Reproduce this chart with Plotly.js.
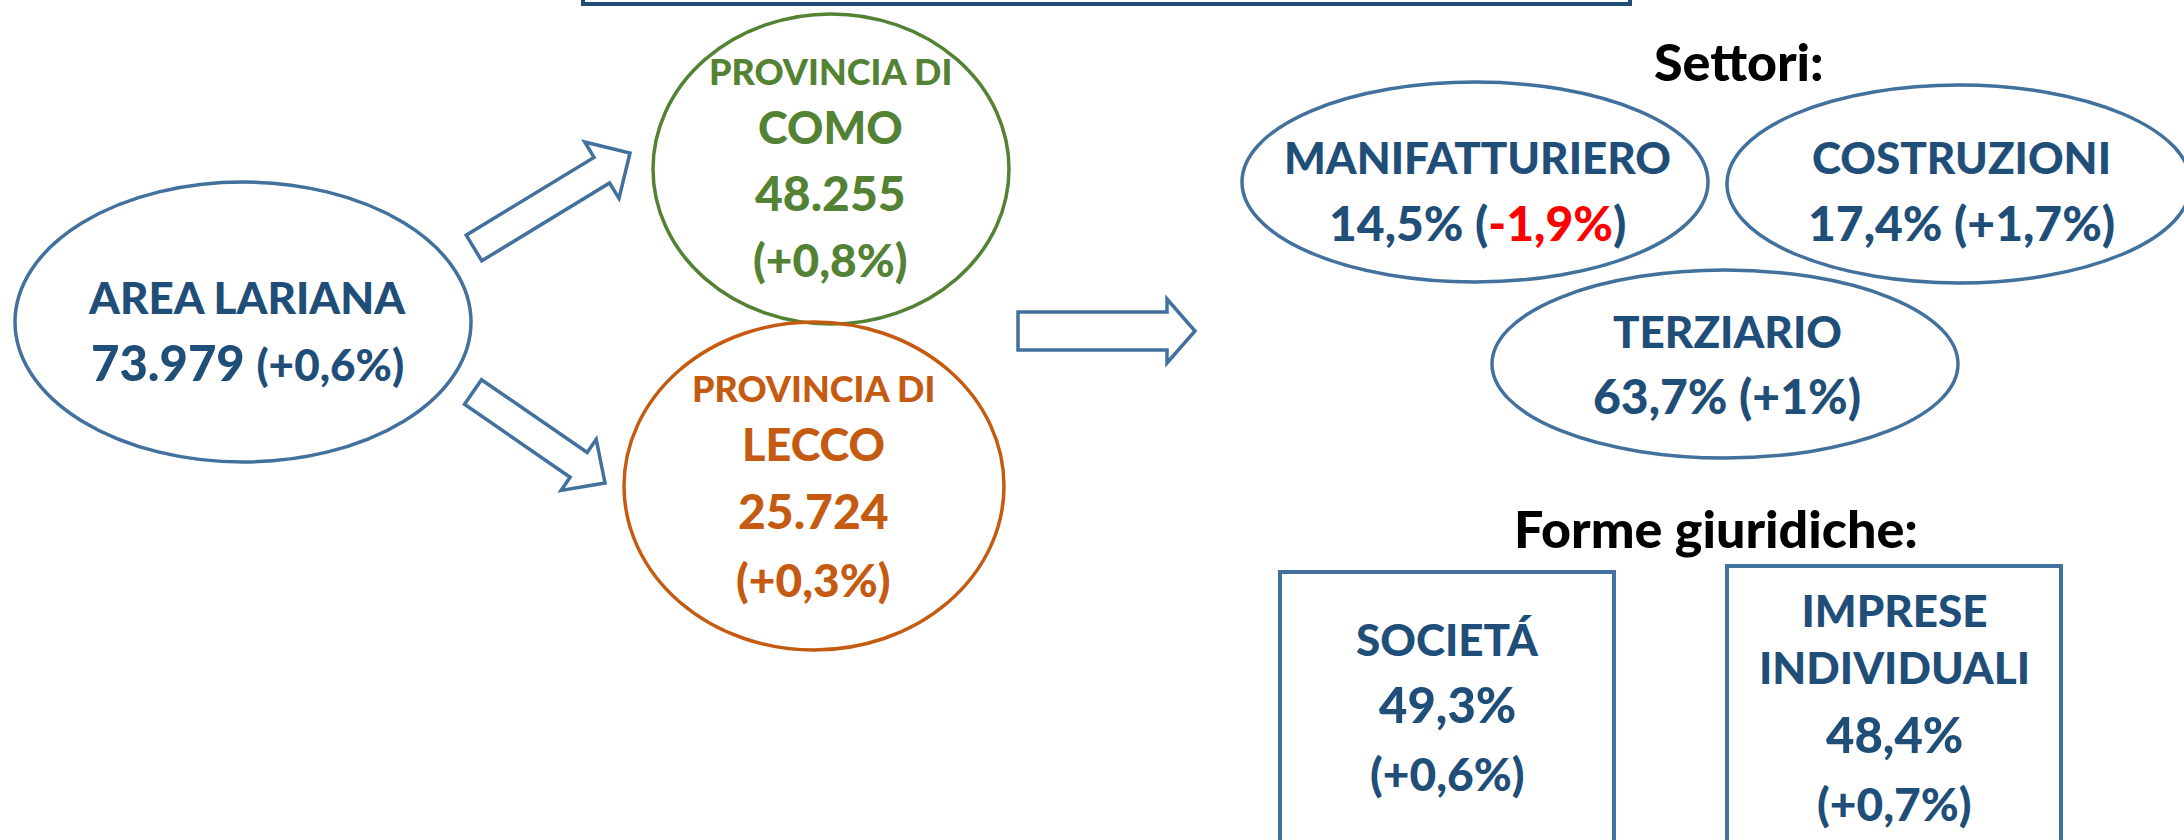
<!DOCTYPE html>
<html>
<head>
<meta charset="utf-8">
<script src="https://cdn.plot.ly/plotly-3.0.1.min.js"></script>
<style>html,body{margin:0;padding:0;background:#fff;}#chart{width:2184px;height:840px;}</style>
</head>
<body>
<div id="chart"></div>
<script>
// ---- data ----
const areaName = 'AREA LARIANA';
const areaTotal = 73979;
const areaChange = 0.6;
const provinceNames = ['COMO', 'LECCO'];
const provinceTotals = [48255, 25724];
const provinceChanges = [0.8, 0.3];
const sectorNames = ['MANIFATTURIERO', 'COSTRUZIONI', 'TERZIARIO'];
const sectorShares = [14.5, 17.4, 63.7];
const sectorChanges = [-1.9, 1.7, 1];
const formNames = ['SOCIETÁ', 'IMPRESE<br>INDIVIDUALI'];
const formShares = [49.3, 48.4];
const formChanges = [0.6, 0.7];
const headings = ['Settori:', 'Forme giuridiche:'];

// ---- formatting helpers (Italian) ----
function fmtInt(n) { return String(n).replace(/\B(?=(\d{3})+(?!\d))/g, '.'); }
function fmtPct(v) { return String(v).replace('.', ',') + '%'; }
function fmtChg(v) { return (v >= 0 ? '+' : '-') + fmtPct(Math.abs(v)); }

// ---- styles ----
const FONT = 'Lato, "Open Sans", sans-serif';
const BLUE_TXT = '#1F4E79';
const BLUE_LINE = '#41719C';
const GREEN = '#548235';
const ORANGE = '#C55A11';
const RED = '#FF0000';

const shapes = [];
const ann = [];

function ell(cx, cy, rx, ry, color, w) {
  shapes.push({type: 'circle', xref: 'x', yref: 'y', x0: cx - rx, x1: cx + rx, y0: cy - ry, y1: cy + ry,
    line: {color: color, width: w}, fillcolor: 'rgba(0,0,0,0)', layer: 'above'});
}
function box(x0, y0, x1, y1, color, w) {
  shapes.push({type: 'rect', xref: 'x', yref: 'y', x0: x0, x1: x1, y0: y0, y1: y1,
    line: {color: color, width: w}, fillcolor: 'rgba(0,0,0,0)'});
}
function arrow(tx, ty, hx, hy, sw, hw, hl) {
  const dx = hx - tx, dy = hy - ty, L = Math.hypot(dx, dy);
  const ux = dx / L, uy = dy / L, px = -uy, py = ux;
  const bx = hx - ux * hl, by = hy - uy * hl;
  const pts = [
    [tx + px * sw / 2, ty + py * sw / 2],
    [bx + px * sw / 2, by + py * sw / 2],
    [bx + px * hw / 2, by + py * hw / 2],
    [hx, hy],
    [bx - px * hw / 2, by - py * hw / 2],
    [bx - px * sw / 2, by - py * sw / 2],
    [tx - px * sw / 2, ty - py * sw / 2]
  ];
  const d = 'M ' + pts.map(p => p[0].toFixed(1) + ',' + p[1].toFixed(1)).join(' L ') + ' Z';
  shapes.push({type: 'path', xref: 'x', yref: 'y', path: d, line: {color: BLUE_LINE, width: 3.5}, fillcolor: '#ffffff'});
}
function txt(x, y, text, size, color) {
  ann.push({x: x, y: y, xref: 'x', yref: 'y', text: text, showarrow: false,
    xanchor: 'center', yanchor: 'middle', font: {family: FONT, size: size, color: color, weight: 900}});
}
function sz(s, t) { return '<span style="font-size:' + s + 'px">' + t + '</span>'; }

// top (cut-off) title box
box(583, -60, 1630, 4, BLUE_TXT, 4);

// Area lariana
ell(243, 322, 228, 140, BLUE_LINE, 3.5);
txt(247, 297, areaName, 44, BLUE_TXT);
txt(247, 362, fmtInt(areaTotal) + ' ' + sz(44, '(' + fmtChg(areaChange) + ')'), 49, BLUE_TXT);

// arrows
arrow(474, 248, 630, 153, 30, 66, 33);
arrow(473, 392, 605, 483, 30, 62, 32);
arrow(1018, 331, 1195, 331, 38, 64, 28);

// provinces
const provCfg = [
  {cx: 831, cy: 169, rx: 178, ry: 155, color: GREEN, ys: [71, 127, 192, 259]},
  {cx: 814, cy: 486, rx: 190, ry: 164, color: ORANGE, ys: [388, 444, 510, 579]}
];
provinceNames.forEach((n, i) => {
  const c = provCfg[i];
  ell(c.cx, c.cy, c.rx, c.ry, c.color, 3.5);
  txt(c.cx - 1, c.ys[0], 'PROVINCIA DI', 36, c.color);
  txt(c.cx - 1, c.ys[1], n, 45, c.color);
  txt(c.cx - 1, c.ys[2], fmtInt(provinceTotals[i]), 48, c.color);
  txt(c.cx - 1, c.ys[3], '(' + fmtChg(provinceChanges[i]) + ')', 46, c.color);
});

// sectors
txt(1739, 61, headings[0], 52, '#000000');
const secCfg = [
  {cx: 1475, cy: 182, rx: 233, ry: 100, ys: [157, 222]},
  {cx: 1959, cy: 184, rx: 232, ry: 99, ys: [157, 222]},
  {cx: 1725, cy: 364, rx: 233, ry: 94, ys: [331, 395]}
];
sectorNames.forEach((n, i) => {
  const c = secCfg[i];
  ell(c.cx, c.cy, c.rx, c.ry, BLUE_LINE, 3.5);
  txt(c.cx + 2, c.ys[0], n, 44, BLUE_TXT);
  const chg = sectorChanges[i] < 0
    ? '(<span style="color:' + RED + '">' + fmtChg(sectorChanges[i]) + '</span>)'
    : '(' + fmtChg(sectorChanges[i]) + ')';
  txt(c.cx + 2, c.ys[1], fmtPct(sectorShares[i]) + ' ' + chg, 48, BLUE_TXT);
});

// legal forms
txt(1716, 528, headings[1], 52, '#000000');
const formCfg = [
  {x0: 1280, x1: 1614, y0: 572, ys: [639, 704, 773]},
  {x0: 1727, x1: 2061, y0: 566, ys: [638, 734, 803]}
];
formNames.forEach((n, i) => {
  const c = formCfg[i];
  const cx = (c.x0 + c.x1) / 2;
  box(c.x0, c.y0, c.x1, 900, BLUE_LINE, 4);
  txt(cx, c.ys[0], n, 44, BLUE_TXT);
  txt(cx, c.ys[1], fmtPct(formShares[i]), 49, BLUE_TXT);
  txt(cx, c.ys[2], '(' + fmtChg(formChanges[i]) + ')', 46, BLUE_TXT);
});

const layout = {
  width: 2184, height: 840,
  margin: {l: 0, r: 0, t: 0, b: 0, pad: 0},
  paper_bgcolor: '#ffffff', plot_bgcolor: '#ffffff',
  showlegend: false,
  xaxis: {range: [0, 2184], visible: false, fixedrange: true},
  yaxis: {range: [840, 0], visible: false, fixedrange: true},
  shapes: shapes,
  annotations: ann
};
Plotly.newPlot('chart', [{x: [], y: [], type: 'scatter', mode: 'markers', hoverinfo: 'skip'}], layout,
  {displayModeBar: false, staticPlot: true});
</script>
</body>
</html>
